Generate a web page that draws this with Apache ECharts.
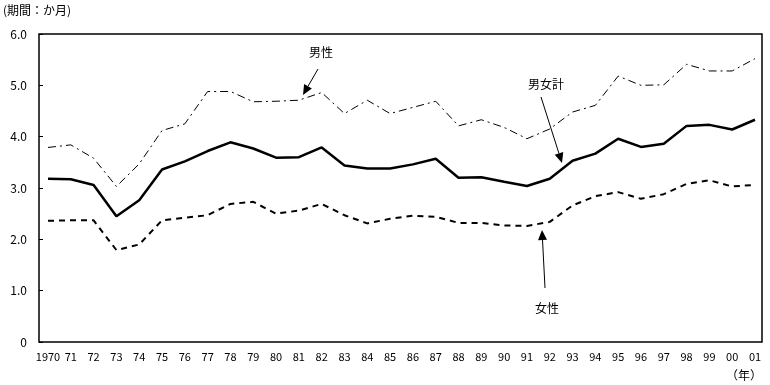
<!DOCTYPE html>
<html>
<head>
<meta charset="utf-8">
<script src="https://cdn.jsdelivr.net/npm/echarts@6/dist/echarts.min.js"></script>
<style>
html,body{margin:0;padding:0;background:#fff;}
#c{width:770px;height:385px;}
</style>
</head>
<body>
<div id="c"></div>
<script>
// ---- data ----
const years = ['1970','71','72','73','74','75','76','77','78','79','80','81','82','83','84','85',
  '86','87','88','89','90','91','92','93','94','95','96','97','98','99','00','01'];
const total  = [3.18,3.17,3.06,2.45,2.76,3.36,3.52,3.72,3.89,3.77,3.59,3.60,3.79,3.44,3.38,3.38,
  3.46,3.57,3.20,3.21,3.12,3.04,3.18,3.53,3.67,3.96,3.80,3.86,4.21,4.23,4.14,4.33];
const male   = [3.79,3.84,3.58,3.03,3.47,4.12,4.25,4.88,4.88,4.68,4.69,4.71,4.86,4.45,4.71,4.45,
  4.57,4.69,4.21,4.33,4.18,3.96,4.15,4.48,4.61,5.18,5.00,5.01,5.41,5.28,5.28,5.52];
const female = [2.36,2.37,2.37,1.79,1.90,2.37,2.42,2.47,2.69,2.73,2.50,2.56,2.69,2.47,2.31,2.40,
  2.46,2.44,2.32,2.32,2.27,2.26,2.34,2.66,2.84,2.92,2.79,2.88,3.08,3.15,3.03,3.06];
const yTicks = [0,1,2,3,4,5,6];

const FONT = '"Noto Sans CJK JP", "Noto Sans", sans-serif';

// annotation arrows: label, label centre, arrow start, arrow tip
const notes = [
  {text:'男性',   cx:321, cy:52,  x1:318, y1:69,  x2:303, y2:95},
  {text:'男女計', cx:546, cy:84,  x1:541, y1:97,  x2:562, y2:163},
  {text:'女性',   cx:547, cy:308, x1:545, y1:288, x2:542, y2:230}
];

function arrow(n){
  const dx = n.x2 - n.x1, dy = n.y2 - n.y1;
  const L = Math.sqrt(dx*dx + dy*dy);
  const ux = dx / L, uy = dy / L;
  const hl = 10, hw = 4.5;
  const bx = n.x2 - ux*hl, by = n.y2 - uy*hl;
  return [
    {type:'line', shape:{x1:n.x1, y1:n.y1, x2:bx, y2:by}, style:{stroke:'#000', lineWidth:1}},
    {type:'polygon', shape:{points:[[n.x2,n.y2],[bx - uy*hw, by + ux*hw],[bx + uy*hw, by - ux*hw]]},
      style:{fill:'#000'}},
    {type:'text', x:n.cx, y:n.cy, style:{text:n.text, fill:'#000', font:'12px ' + FONT,
      align:'center', verticalAlign:'middle'}}
  ];
}

const graphics = [
  {type:'text', left:3, top:4, style:{text:'(期間：か月)', fill:'#000', font:'12px ' + FONT}},
  {type:'text', left:726, top:369, style:{text:'（年）', fill:'#000', font:'12px ' + FONT}}
];
notes.forEach(n => arrow(n).forEach(g => graphics.push(g)));

const chart = echarts.init(document.getElementById('c'), null, {renderer:'canvas'});
chart.setOption({
  backgroundColor:'#fff',
  animation:false,
  textStyle:{fontFamily:FONT},
  grid:[
    {left:39, top:34, right:8, bottom:43, show:true, borderColor:'#000', borderWidth:1.5, backgroundColor:'transparent'},
    {left:48, top:34, right:15, bottom:43}
  ],
  xAxis:[
    {gridIndex:0, type:'value', min:0, max:1, show:false},
    {gridIndex:1, type:'category', data:years, boundaryGap:false,
      axisLine:{show:false}, axisTick:{show:false}, splitLine:{show:false},
      axisLabel:{interval:0, color:'#000', fontSize:11, margin:9, fontFamily:FONT}}
  ],
  yAxis:[
    {gridIndex:0, type:'value', min:0, max:1, show:false},
    {gridIndex:1, type:'value', min:yTicks[0], max:yTicks[yTicks.length-1], interval:1, offset:9,
      axisLine:{show:false},
      axisTick:{show:true, inside:true, length:4, lineStyle:{color:'#000', width:1}},
      splitLine:{show:false},
      axisLabel:{color:'#000', fontSize:12, margin:12, fontFamily:FONT,
        formatter:v => v === 0 ? '0' : v.toFixed(1)}}
  ],
  series:[
    {name:'男性', type:'line', xAxisIndex:1, yAxisIndex:1, data:male, symbol:'none',
      lineStyle:{color:'#000', width:1, type:[8,4,2,4]}},
    {name:'男女計', type:'line', xAxisIndex:1, yAxisIndex:1, data:total, symbol:'none',
      lineStyle:{color:'#000', width:2.5}},
    {name:'女性', type:'line', xAxisIndex:1, yAxisIndex:1, data:female, symbol:'none',
      lineStyle:{color:'#000', width:2, type:[6,5]}}
  ],
  graphic:graphics
});
</script>
</body>
</html>
